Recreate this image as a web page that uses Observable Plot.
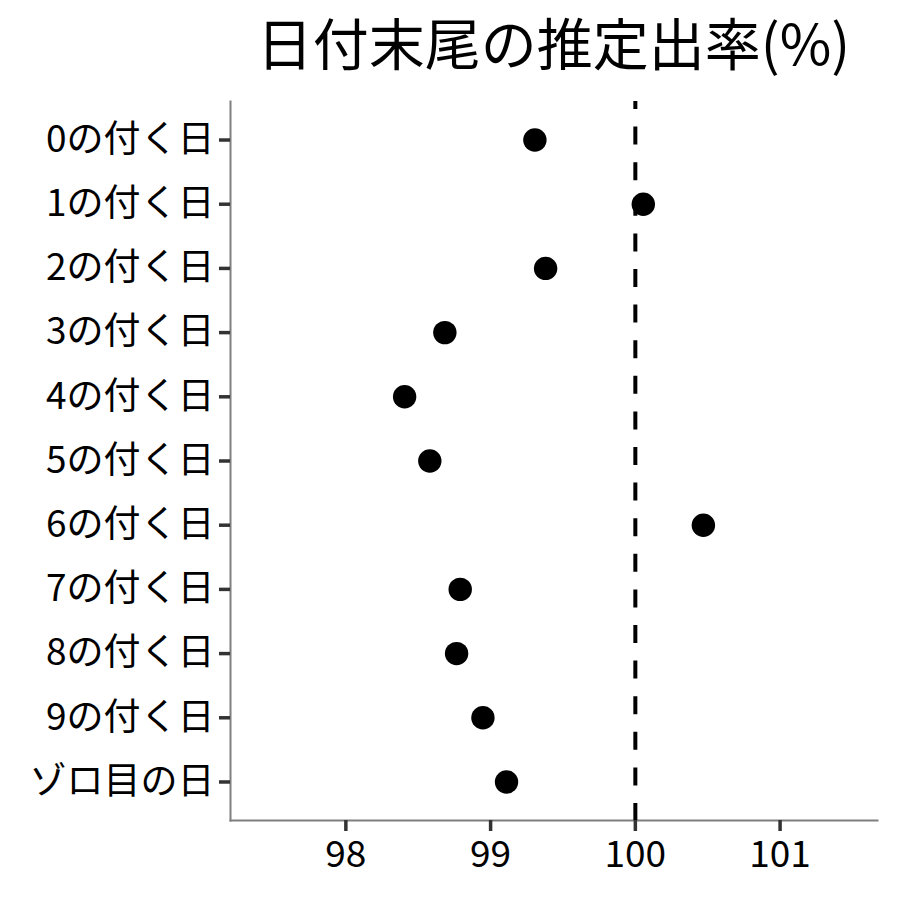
<!DOCTYPE html>
<html>
<head>
<meta charset="utf-8">
<script src="https://cdn.jsdelivr.net/npm/d3@7"></script>
<script src="https://cdn.jsdelivr.net/npm/@observablehq/plot@0.6"></script>
<style>
  html, body { margin: 0; padding: 0; background: #fff; }
  #wrap { width: 900px; }
  #title {
    box-sizing: border-box; height: 82px; padding-top: 0; line-height: normal; margin: 0;
    padding-left: 230px; width: 877px; text-align: center; white-space: nowrap;
    font-family: "Noto Sans CJK JP", sans-serif; font-size: 56px; font-weight: 400; color: #000;
  }
  #chart svg { display: block; }
</style>
</head>
<body>
<div id="wrap">
  <div id="title">日付末尾の推定出率(%)</div>
  <div id="chart"></div>
</div>
<script>
const categories = ["0の付く日","1の付く日","2の付く日","3の付く日","4の付く日","5の付く日","6の付く日","7の付く日","8の付く日","9の付く日","ゾロ目の日"];
const rates = [99.306, 100.055, 99.38, 98.684, 98.406, 98.58, 100.47, 98.79, 98.765, 98.947, 99.11];
const xTicks = [98, 99, 100, 101];
const xDomain = [97.203, 101.673];
const refValue = [100];

const data = categories.map((c, i) => ({category: c, rate: rates[i]}));

const chart = Plot.plot({
  width: 900,
  height: 818,
  marginLeft: 230,
  marginRight: 23,
  marginTop: 19,
  marginBottom: 80,
  style: {fontFamily: "'Noto Sans CJK JP', sans-serif", background: "white", color: "black"},
  x: {domain: xDomain},
  y: {type: "point", domain: categories, padding: 0.6, round: false},
  marks: [
    Plot.frame({anchor: "left", stroke: "#7f7f7f", strokeWidth: 2}),
    Plot.frame({anchor: "bottom", stroke: "#7f7f7f", strokeWidth: 2}),
    Plot.ruleX(refValue, {stroke: "black", strokeWidth: 4, strokeDasharray: "18,17.6", strokeDashoffset: 10}),
    Plot.dot(data, {x: "rate", y: "category", r: 11.7, fill: "black", stroke: null}),
    Plot.axisX({ticks: xTicks, tickFormat: d => String(d), tickSize: 11, tickPadding: 9, stroke: "#333", strokeWidth: 3.5, fill: "black", fontSize: 37, label: null}),
    Plot.axisY({tickSize: 11, tickPadding: 5, stroke: "#333", strokeWidth: 3.5, fill: "black", fontSize: 37, label: null})
  ]
});
document.getElementById("chart").appendChild(chart);
</script>
</body>
</html>
